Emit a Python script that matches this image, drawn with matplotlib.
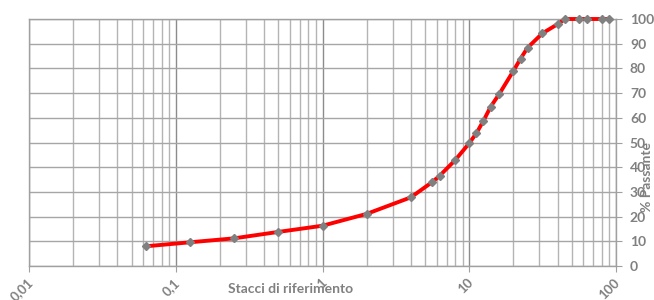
import matplotlib
matplotlib.use("Agg")
import matplotlib.pyplot as plt
from matplotlib.ticker import LogLocator, FixedLocator, NullFormatter
import matplotlib.transforms as mtransforms

# Data
sieve_mm = [0.063, 0.125, 0.25, 0.5, 1, 2, 4, 5.6, 6.3, 8, 10, 11.2, 12.5, 14, 16,
            20, 22.4, 25, 31.5, 40, 45, 56, 63, 80, 90]
passing = [8.0, 9.6, 11.2, 13.8, 16.3, 21.1, 27.8, 34.0, 36.6, 42.8, 49.7, 53.8, 58.8,
           64.5, 69.6, 79.0, 84.0, 88.4, 94.2, 97.9, 100, 100, 100, 100, 100]
x_ticks = [0.01, 0.1, 1, 10, 100]
x_tick_labels = ["0,01", "0,1", "1", "10", "100"]
y_ticks = [0, 10, 20, 30, 40, 50, 60, 70, 80, 90, 100]

plt.rcParams['font.family'] = ['Lato', 'DejaVu Sans']
gray = "#808080"

fig = plt.figure(figsize=(6.54, 3.0), dpi=100)
ax = fig.add_axes([29/654, 1-266/300, (616-29)/654, (266-19)/300])

ax.set_xscale("log")
ax.set_xlim(0.01, 100)
ax.set_ylim(0, 100)

ax.plot(sieve_mm, passing, color="#ff0000", lw=2.8, zorder=3, clip_on=False)
ax.plot(sieve_mm, passing, ls="none", marker="D", ms=4.2, mfc=gray, mec=gray,
        zorder=4, clip_on=False)

ax.xaxis.set_major_locator(FixedLocator(x_ticks))
ax.xaxis.set_minor_locator(LogLocator(base=10, subs=range(2, 10), numticks=20))
ax.xaxis.set_minor_formatter(NullFormatter())
ax.set_xticks(x_ticks)
ax.set_xticklabels(x_tick_labels, rotation=45, ha="right", va="center",
                   rotation_mode="anchor", fontsize=9.5, fontweight="bold", color=gray)
ax.tick_params(axis="x", which="major", length=4, color="#a0a0a0", pad=6.5)
ax.tick_params(axis="x", which="minor", length=0)
offset = mtransforms.ScaledTranslation(2/100, 0, fig.dpi_scale_trans)
for lbl in ax.get_xticklabels():
    lbl.set_transform(lbl.get_transform() + offset)

ax.yaxis.tick_right()
ax.set_yticks(y_ticks)
ax.set_yticklabels([str(v) for v in y_ticks], fontsize=10, fontweight="bold", color=gray)
ax.tick_params(axis="y", which="major", length=4, color="#a0a0a0", pad=6)

ax.grid(True, which="major", axis="x", color="#8c8c8c", lw=1.0)
ax.grid(True, which="minor", axis="x", color="#b4b4b4", lw=1.0)
ax.grid(True, which="major", axis="y", color="#a6a6a6", lw=1.0)

for s in ax.spines.values():
    s.set_color("#a0a0a0")
    s.set_linewidth(1.0)

fig.text(291/654, 1-289/300, "Stacci di riferimento", ha="center", va="center",
         fontsize=10, fontweight="bold", color=gray)
fig.text(647/654, 1-177/300, "% Passante", ha="center", va="center", rotation=90,
         fontsize=10, fontweight="bold", color=gray)

fig.savefig("out.png", dpi=100)
